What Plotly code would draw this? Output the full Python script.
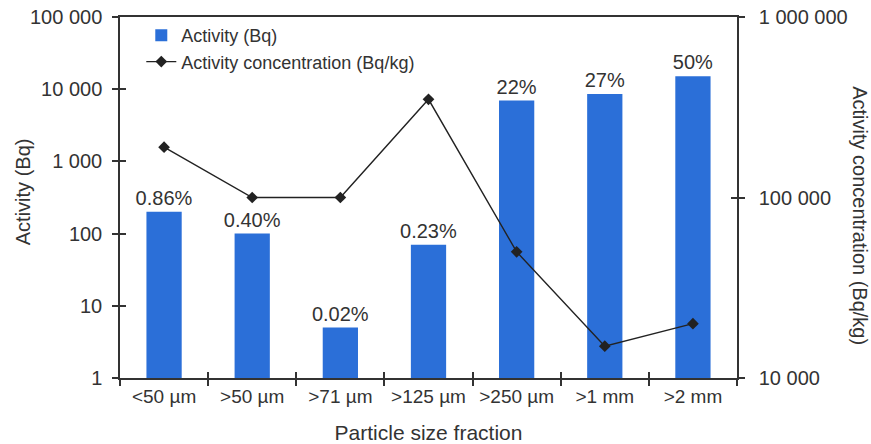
import plotly.graph_objects as go

# Particle size fractions and measured values
categories = ["<50 µm", ">50 µm", ">71 µm", ">125 µm", ">250 µm", ">1 mm", ">2 mm"]
activity_bq = [200, 100, 5, 70, 6950, 8550, 15100]
activity_share = ["0.86%", "0.40%", "0.02%", "0.23%", "22%", "27%", "50%"]
concentration_bq_kg = [190000, 100000, 100000, 350000, 50000, 15000, 20000]

left_ticks = [1, 10, 100, 1000, 10000, 100000]
left_labels = ["1", "10", "100", "1 000", "10 000", "100 000"]
right_ticks = [10000, 100000, 1000000]
right_labels = ["10 000", "100 000", "1 000 000"]
boundary_ticks = [-0.5, 0.5, 1.5, 2.5, 3.5, 4.5, 5.5, 6.5]

FONT = "Liberation Sans, Arial, sans-serif"
TEXT = "#333333"
AXIS = "#333333"
BLUE = "#2b6fd8"

fig = go.Figure()

fig.add_trace(go.Bar(
    x=categories, y=activity_bq, name="Activity (Bq)",
    marker=dict(color=BLUE, line=dict(width=0)),
    width=0.4,
    text=activity_share, textposition="outside", cliponaxis=False,
    constraintext="none",
    textfont=dict(family=FONT, size=20, color=TEXT),
    xaxis="x", yaxis="y",
))

fig.add_trace(go.Scatter(
    x=categories, y=concentration_bq_kg, name="Activity concentration (Bq/kg)",
    mode="lines+markers",
    line=dict(color="#222222", width=1.4),
    marker=dict(symbol="diamond", size=9, color="#222222"),
    xaxis="x", yaxis="y2",
))

# a second, coincident subplot whose axes draw the inward half of each tick
fig.add_trace(go.Scatter(x=[0], y=[10], xaxis="x3", yaxis="y3", mode="markers",
                         marker=dict(opacity=0), showlegend=False, hoverinfo="skip"))
fig.add_trace(go.Scatter(x=[0], y=[100000], xaxis="x3", yaxis="y4", mode="markers",
                         marker=dict(opacity=0), showlegend=False, hoverinfo="skip"))

tick_out = dict(ticklen=6, tickwidth=1.5, tickcolor=AXIS)
tick_in = dict(ticks="inside", ticklen=6, tickwidth=1.5, tickcolor=AXIS,
               showticklabels=False, showline=False, showgrid=False, zeroline=False)

fig.update_layout(
    template="none",
    width=871, height=444,
    margin=dict(l=120, r=134, t=17, b=66),
    paper_bgcolor="white", plot_bgcolor="rgba(0,0,0,0)",
    font=dict(family=FONT, size=20, color=TEXT),
    showlegend=True,
    legend=dict(
        x=0.0345, y=1.0, xanchor="left", yanchor="top",
        bgcolor="rgba(0,0,0,0)", font=dict(family=FONT, size=18, color=TEXT),
        itemwidth=30, tracegroupgap=0,
    ),
    xaxis=dict(
        type="category", range=[-0.5, 6.5], automargin=False, domain=[0, 1],
        showline=True, linecolor=AXIS, linewidth=1.5, mirror=True,
        ticks="outside", tickson="boundaries", **tick_out,
        showgrid=False, zeroline=False,
        tickfont=dict(family=FONT, size=19, color=TEXT),
        title=dict(text="Particle size fraction", font=dict(family=FONT, size=21, color=TEXT), standoff=21),
    ),
    yaxis=dict(
        type="log", range=[0, 5], automargin=False, domain=[0, 1],
        tickvals=left_ticks, ticktext=left_labels,
        showline=True, linecolor=AXIS, linewidth=1.5,
        ticks="outside", **tick_out, ticklabelstandoff=6,
        showgrid=False, zeroline=False,
        tickfont=dict(family=FONT, size=20, color=TEXT),
    ),
    yaxis2=dict(
        type="log", range=[4, 6], overlaying="y", side="right", anchor="x", automargin=False,
        tickvals=right_ticks, ticktext=right_labels,
        showline=True, linecolor=AXIS, linewidth=1.5,
        ticks="outside", **tick_out, ticklabelstandoff=10,
        showgrid=False, zeroline=False,
        tickfont=dict(family=FONT, size=20, color=TEXT),
    ),
    xaxis3=dict(range=[-0.5, 6.5], anchor="y3", domain=[0, 1], side="bottom",
                automargin=False, tickvals=boundary_ticks, **tick_in),
    yaxis3=dict(type="log", range=[0, 5], anchor="x3", domain=[0, 1], side="left",
                automargin=False, tickvals=left_ticks, **tick_in),
    yaxis4=dict(type="log", range=[4, 6], overlaying="y3", anchor="x3", side="right",
                automargin=False, tickvals=right_ticks, **tick_in),
    annotations=[
        dict(
            text="Activity (Bq)", textangle=-90,
            xref="paper", yref="paper", x=-0.157, y=0.515,
            xanchor="center", yanchor="middle", showarrow=False,
            font=dict(family=FONT, size=20, color=TEXT),
        ),
        dict(
            text="Activity concentration (Bq/kg)", textangle=90,
            xref="paper", yref="paper", x=1.2, y=0.45,
            xanchor="center", yanchor="middle", showarrow=False,
            font=dict(family=FONT, size=20, color=TEXT),
        ),
    ],
)

fig.write_html("out.html")
